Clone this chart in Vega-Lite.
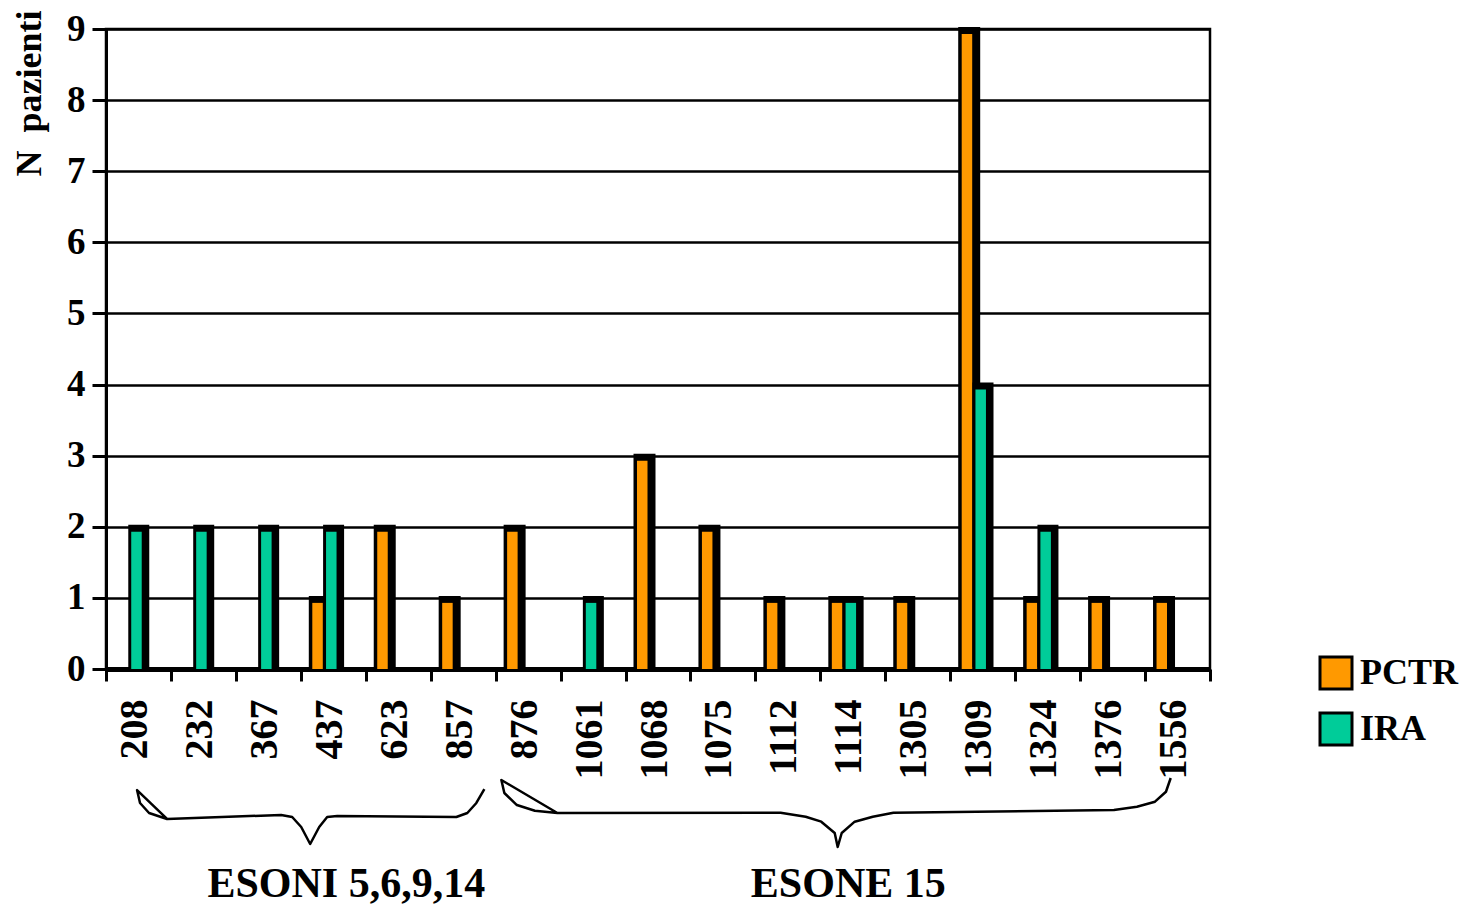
{
  "$schema": "https://vega.github.io/schema/vega-lite/v6.json",
  "width": 1104,
  "height": 640,
  "autosize": "none",
  "padding": {"left": 106, "top": 29, "right": 256, "bottom": 237},
  "background": "white",
  "config": {
    "font": "Liberation Serif",
    "view": {"stroke": "black", "strokeWidth": 2.5},
    "axis": {"labelFont": "Liberation Serif", "labelFontWeight": "bold", "labelColor": "black", "titleFont": "Liberation Serif", "titleFontWeight": "bold", "titleColor": "black"}
  },
  "datasets": {
    "counts": [
      {"cat": "208", "series": "PCTR", "n": 0}, {"cat": "208", "series": "IRA", "n": 2},
      {"cat": "232", "series": "PCTR", "n": 0}, {"cat": "232", "series": "IRA", "n": 2},
      {"cat": "367", "series": "PCTR", "n": 0}, {"cat": "367", "series": "IRA", "n": 2},
      {"cat": "437", "series": "PCTR", "n": 1}, {"cat": "437", "series": "IRA", "n": 2},
      {"cat": "623", "series": "PCTR", "n": 2}, {"cat": "623", "series": "IRA", "n": 0},
      {"cat": "857", "series": "PCTR", "n": 1}, {"cat": "857", "series": "IRA", "n": 0},
      {"cat": "876", "series": "PCTR", "n": 2}, {"cat": "876", "series": "IRA", "n": 0},
      {"cat": "1061", "series": "PCTR", "n": 0}, {"cat": "1061", "series": "IRA", "n": 1},
      {"cat": "1068", "series": "PCTR", "n": 3}, {"cat": "1068", "series": "IRA", "n": 0},
      {"cat": "1075", "series": "PCTR", "n": 2}, {"cat": "1075", "series": "IRA", "n": 0},
      {"cat": "1112", "series": "PCTR", "n": 1}, {"cat": "1112", "series": "IRA", "n": 0},
      {"cat": "1114", "series": "PCTR", "n": 1}, {"cat": "1114", "series": "IRA", "n": 1},
      {"cat": "1305", "series": "PCTR", "n": 1}, {"cat": "1305", "series": "IRA", "n": 0},
      {"cat": "1309", "series": "PCTR", "n": 9}, {"cat": "1309", "series": "IRA", "n": 4},
      {"cat": "1324", "series": "PCTR", "n": 1}, {"cat": "1324", "series": "IRA", "n": 2},
      {"cat": "1376", "series": "PCTR", "n": 1}, {"cat": "1376", "series": "IRA", "n": 0},
      {"cat": "1556", "series": "PCTR", "n": 1}, {"cat": "1556", "series": "IRA", "n": 0}
    ],
    "braces": [
      {"brace": "a", "i": 1, "bx": 0.94, "by": -2.109},
      {"brace": "a", "i": 2, "bx": 0.478, "by": -1.702},
      {"brace": "a", "i": 3, "bx": 0.524, "by": -1.884},
      {"brace": "a", "i": 4, "bx": 0.663, "by": -2.025},
      {"brace": "a", "i": 5, "bx": 0.94, "by": -2.109},
      {"brace": "a", "i": 6, "bx": 2.697, "by": -2.053},
      {"brace": "a", "i": 7, "bx": 2.867, "by": -2.081},
      {"brace": "a", "i": 8, "bx": 3.006, "by": -2.222},
      {"brace": "a", "i": 9, "bx": 3.144, "by": -2.461},
      {"brace": "a", "i": 10, "bx": 3.283, "by": -2.222},
      {"brace": "a", "i": 11, "bx": 3.406, "by": -2.081},
      {"brace": "a", "i": 12, "bx": 3.56, "by": -2.067},
      {"brace": "a", "i": 13, "bx": 5.395, "by": -2.081},
      {"brace": "a", "i": 14, "bx": 5.564, "by": -2.025},
      {"brace": "a", "i": 15, "bx": 5.703, "by": -1.884},
      {"brace": "a", "i": 16, "bx": 5.826, "by": -1.688},
      {"brace": "b", "i": 1, "bx": 6.951, "by": -2.025},
      {"brace": "b", "i": 2, "bx": 6.088, "by": -1.561},
      {"brace": "b", "i": 3, "bx": 6.134, "by": -1.744},
      {"brace": "b", "i": 4, "bx": 6.327, "by": -1.913},
      {"brace": "b", "i": 5, "bx": 6.604, "by": -1.993},
      {"brace": "b", "i": 6, "bx": 6.951, "by": -2.025},
      {"brace": "b", "i": 7, "bx": 10.388, "by": -2.021},
      {"brace": "b", "i": 8, "bx": 10.774, "by": -2.077},
      {"brace": "b", "i": 9, "bx": 11.014, "by": -2.147},
      {"brace": "b", "i": 10, "bx": 11.221, "by": -2.306},
      {"brace": "b", "i": 11, "bx": 11.267, "by": -2.503},
      {"brace": "b", "i": 12, "bx": 11.329, "by": -2.306},
      {"brace": "b", "i": 13, "bx": 11.529, "by": -2.147},
      {"brace": "b", "i": 14, "bx": 11.807, "by": -2.077},
      {"brace": "b", "i": 15, "bx": 12.125, "by": -2.021},
      {"brace": "b", "i": 16, "bx": 15.521, "by": -1.983},
      {"brace": "b", "i": 17, "bx": 15.875, "by": -1.936},
      {"brace": "b", "i": 18, "bx": 16.153, "by": -1.866},
      {"brace": "b", "i": 19, "bx": 16.322, "by": -1.726},
      {"brace": "b", "i": 20, "bx": 16.395, "by": -1.533}
    ],
    "groups": [
      {"label": "ESONI 5,6,9,14", "gx": 3.7, "gy": -3.02},
      {"label": "ESONE 15", "gx": 11.43, "gy": -3.02}
    ]
  },
  "resolve": {"scale": {"x": "independent", "y": "independent"}, "axis": {"x": "independent", "y": "independent"}},
  "layer": [
    {
      "data": {"name": "counts"},
      "transform": [{"filter": "datum.n > 0"}],
      "encoding": {
        "x": {
          "field": "cat", "type": "nominal",
          "scale": {"domain": ["208","232","367","437","623","857","876","1061","1068","1075","1112","1114","1305","1309","1324","1376","1556"], "paddingInner": 0, "paddingOuter": 0},
          "axis": {
            "title": null, "tickBand": "extent", "labelAngle": 270, "labelAlign": "right", "labelBaseline": "middle",
            "labelFontSize": 40, "labelPadding": 18, "labelOffset": -4, "tickSize": 12, "tickWidth": 3, "tickColor": "black",
            "domainColor": "black", "domainWidth": 5, "grid": false
          }
        },
        "y": {
          "field": "n", "type": "quantitative",
          "scale": {"domain": [0, 9], "nice": false, "zero": true},
          "axis": {
            "title": "N\u00a0\u00a0pazienti", "titleFontSize": 36, "titleAngle": 270, "titleAnchor": "end", "titleAlign": "right", "titleBaseline": "middle", "titleX": -77, "titleY": -19,
            "values": [0,1,2,3,4,5,6,7,8,9], "labelFontSize": 37, "labelPadding": 7, "tickSize": 14, "tickWidth": 3, "tickColor": "black",
            "domainColor": "black", "domainWidth": 3, "grid": true, "gridColor": "black", "gridWidth": 2.5, "gridOpacity": 1
          }
        }
      },
      "layer": [
        {
          "transform": [{"filter": "datum.series == 'PCTR'"}],
          "mark": {"type": "bar", "color": "black", "width": 22, "xOffset": -13.5, "yOffset": -2, "y2Offset": 0}
        },
        {
          "transform": [{"filter": "datum.series == 'PCTR'"}],
          "mark": {"type": "bar", "width": 10.5, "xOffset": -15.75, "yOffset": 5, "y2Offset": 0, "clip": true},
          "encoding": {
            "color": {
              "field": "series", "type": "nominal",
              "scale": {"domain": ["PCTR", "IRA"], "range": ["#FF9900", "#00CC99"]},
              "legend": {
                "title": null, "orient": "none", "legendX": 1212, "legendY": 626, "padding": 0,
                "symbolType": "square", "symbolSize": 1024, "symbolStrokeColor": "black", "symbolStrokeWidth": 3, "symbolOpacity": 1,
                "labelFont": "Liberation Serif", "labelFontWeight": "bold", "labelFontSize": 36, "labelColor": "black", "labelOffset": 6, "rowPadding": 12
              }
            }
          }
        },
        {
          "transform": [{"filter": "datum.series == 'IRA'"}],
          "mark": {"type": "bar", "color": "black", "width": 21, "xOffset": 0.3, "yOffset": -2, "y2Offset": 0}
        },
        {
          "transform": [{"filter": "datum.series == 'IRA'"}],
          "mark": {"type": "bar", "width": 10.5, "xOffset": -2, "yOffset": 5, "y2Offset": 0, "clip": true},
          "encoding": {
            "color": {"field": "series", "type": "nominal", "scale": {"domain": ["PCTR", "IRA"], "range": ["#FF9900", "#00CC99"]}}
          }
        }
      ]
    },
    {
      "layer": [
        {
          "data": {"name": "braces"},
          "mark": {"type": "line", "color": "black", "strokeWidth": 2.5, "clip": false, "strokeJoin": "round"},
          "encoding": {
            "x": {"field": "bx", "type": "quantitative", "scale": {"domain": [0, 17], "nice": false, "zero": false}, "axis": null},
            "y": {"field": "by", "type": "quantitative", "scale": {"domain": [0, 9], "nice": false, "zero": false}, "axis": null},
            "detail": {"field": "brace"},
            "order": {"field": "i", "type": "quantitative"}
          }
        },
        {
          "data": {"name": "groups"},
          "mark": {"type": "text", "font": "Liberation Serif", "fontWeight": "bold", "fontSize": 42, "color": "black", "baseline": "middle", "align": "center", "clip": false},
          "encoding": {
            "x": {"field": "gx", "type": "quantitative", "scale": {"domain": [0, 17], "nice": false, "zero": false}, "axis": null},
            "y": {"field": "gy", "type": "quantitative", "scale": {"domain": [0, 9], "nice": false, "zero": false}, "axis": null},
            "text": {"field": "label"}
          }
        }
      ]
    }
  ]
}
